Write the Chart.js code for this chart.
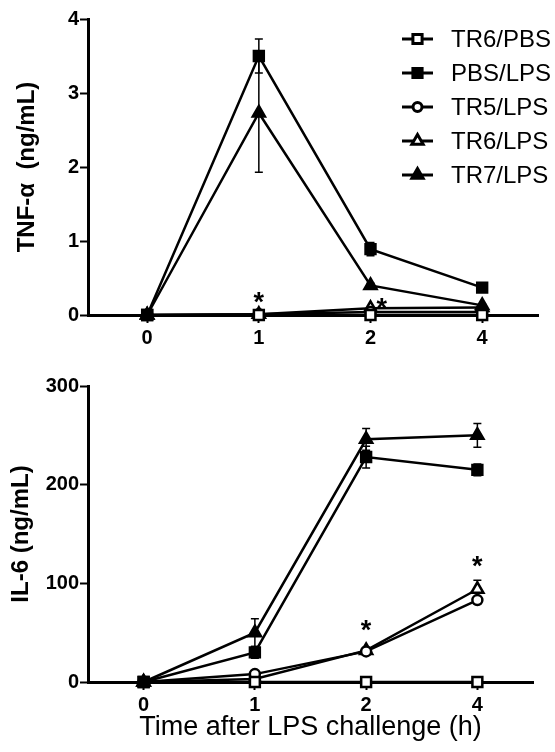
<!DOCTYPE html>
<html>
<head>
<meta charset="utf-8">
<script src="https://cdn.jsdelivr.net/npm/chart.js@4.4.1/dist/chart.umd.min.js"></script>
<style>
  html, body { margin: 0; padding: 0; background: #fff; }
  #wrap { position: relative; width: 555px; height: 752px; }
  canvas { position: absolute; left: 0; }
  #tnf { top: 0; }
  #il6 { top: 345px; }
</style>
</head>
<body>
<div id="wrap">
  <canvas id="tnf" width="555" height="345"></canvas>
  <canvas id="il6" width="555" height="407"></canvas>
</div>
<script>
// Time points (h) and groups
const times = ['0', '1', '2', '4'];
const groups = ['TR6/PBS', 'PBS/LPS', 'TR5/LPS', 'TR6/LPS', 'TR7/LPS'];

// TNF-alpha (ng/mL)
const tnfTR6PBS = [0, 0, 0, 0];
const tnfPBSLPS = [0, 3.5, 0.89, 0.37];
const tnfTR5LPS = [0, 0.01, 0.04, 0.04];
const tnfTR6LPS = [0, 0.01, 0.09, 0.1];
const tnfTR7LPS = [0, 2.73, 0.4, 0.13];
const tnfErrPBSLPS = [0, 0.23, 0.09, 0.03];
const tnfErrTR7LPS = [0, 0.8, 0.03, 0.02];
const tnfTicks = [0, 1, 2, 3, 4];
const tnfStarX = [1, 2.1];
const tnfStarY = [0.28, 0.2];

// IL-6 (ng/mL)
const il6TR6PBS = [0, 0, 0, 0];
const il6PBSLPS = [0, 30, 228, 215];
const il6TR5LPS = [0, 8, 31, 83];
const il6TR6LPS = [0, 3, 32, 94];
const il6TR7LPS = [0, 50, 246, 250];
const il6ErrPBSLPS = [0, 6, 11, 6];
const il6ErrTR5LPS = [0, 1, 2, 3];
const il6ErrTR6LPS = [0, 2, 3, 9];
const il6ErrTR7LPS = [0, 14, 11, 12];
const il6Ticks = [0, 100, 200, 300];
const il6StarX = [2, 3];
const il6StarY = [61, 126];

const FONT = '"Liberation Sans", Arial, sans-serif';
Chart.defaults.font.family = FONT;
Chart.defaults.color = '#000';

// marker style per group (same order as groups)
const markers = [
  { style: 'rect', fill: '#fff', r: 7 },
  { style: 'rect', fill: '#000', r: 7 },
  { style: 'circle', fill: '#fff', r: 5 },
  { style: 'triangle', fill: '#fff', r: 7 },
  { style: 'triangle', fill: '#000', r: 7 }
];
const drawOrder = [2, 0, 3, 4, 1];

function toPoints(arr) {
  return arr.map((v, i) => ({ x: i, y: v }));
}

function makeDatasets(series, errors) {
  return series.map((vals, k) => ({
    label: groups[k],
    data: toPoints(vals),
    errors: errors[k],
    borderColor: '#000',
    borderWidth: 2.5,
    pointStyle: markers[k].style,
    pointRadius: markers[k].r,
    pointHoverRadius: markers[k].r,
    pointBackgroundColor: markers[k].fill,
    pointBorderColor: '#000',
    pointBorderWidth: 2.5,
    tension: 0,
    clip: false,
    order: drawOrder[k]
  }));
}

const errorBars = {
  id: 'errorBars',
  beforeDatasetsDraw(chart) {
    const ctx = chart.ctx;
    const xs = chart.scales.x, ys = chart.scales.y;
    ctx.save();
    ctx.strokeStyle = '#000';
    ctx.lineWidth = 1.5;
    chart.data.datasets.forEach(ds => {
      if (!ds.errors) return;
      ds.errors.forEach((e, i) => {
        if (!e) return;
        const v = ds.data[i].y;
        const px = xs.getPixelForValue(i);
        const top = ys.getPixelForValue(v + e);
        const bot = ys.getPixelForValue(Math.max(v - e, 0));
        ctx.beginPath();
        ctx.moveTo(px, top); ctx.lineTo(px, bot);
        ctx.moveTo(px - 4, top); ctx.lineTo(px + 4, top);
        ctx.moveTo(px - 4, bot); ctx.lineTo(px + 4, bot);
        ctx.stroke();
      });
    });
    ctx.restore();
  }
};

function stars(xs, ys) {
  return {
    id: 'stars',
    afterDatasetsDraw(chart) {
      const ctx = chart.ctx;
      ctx.save();
      ctx.font = 'bold 27px ' + FONT;
      ctx.textAlign = 'center';
      ctx.textBaseline = 'alphabetic';
      ctx.fillStyle = '#000';
      xs.forEach((x, i) => {
        const px = chart.scales.x.getPixelForValue(x);
        const py = chart.scales.y.getPixelForValue(ys[i]);
        ctx.fillText('*', px, py + 17);
      });
      ctx.restore();
    }
  };
}

// legend drawn inside the top panel
const legendBox = {
  id: 'legendBox',
  afterDraw(chart) {
    const ctx = chart.ctx;
    ctx.save();
    groups.forEach((name, k) => {
      const y = 39 + k * 34;
      ctx.strokeStyle = '#000';
      ctx.lineWidth = 3;
      ctx.beginPath();
      ctx.moveTo(402, y); ctx.lineTo(433, y);
      ctx.stroke();
      ctx.fillStyle = markers[k].fill;
      Chart.helpers.drawPoint(ctx, {
        pointStyle: markers[k].style,
        radius: markers[k].r - 0.5,
        rotation: 0,
        borderWidth: 3
      }, 417.5, y);
      ctx.fillStyle = '#000';
      ctx.font = '24px ' + FONT;
      ctx.textAlign = 'left';
      ctx.textBaseline = 'middle';
      ctx.fillText(name, 451, y + 1);
    });
    ctx.restore();
  }
};

function makeChart(id, series, errors, opts) {
  return new Chart(document.getElementById(id), {
    type: 'line',
    data: { datasets: makeDatasets(series, errors) },
    options: {
      responsive: false,
      animation: false,
      devicePixelRatio: 1,
      layout: { padding: opts.padding },
      plugins: { legend: { display: false }, tooltip: { enabled: false } },
      scales: {
        x: {
          type: 'linear',
          min: opts.xMin,
          max: 3.5,
          afterBuildTicks: s => { s.ticks = times.map((t, i) => ({ value: i })); },
          afterFit: s => { s.height = opts.xHeight; },
          ticks: {
            callback: v => times[v],
            font: { size: 20, weight: 'bold' },
            padding: 3,
            maxRotation: 0
          },
          grid: { drawOnChartArea: false, tickLength: 8, tickWidth: 2, color: '#000' },
          border: { color: '#000', width: 3 },
          title: opts.xTitle ? {
            display: true,
            text: opts.xTitle,
            font: { size: 27 },
            padding: { top: 0, bottom: 8 }
          } : { display: false }
        },
        y: {
          min: 0,
          max: opts.yTicks[opts.yTicks.length - 1],
          afterBuildTicks: s => { s.ticks = opts.yTicks.map(v => ({ value: v })); },
          afterFit: s => { s.width = 88; },
          ticks: { font: { size: 20, weight: 'bold' }, padding: 1 },
          grid: { drawOnChartArea: false, tickLength: 8, tickWidth: 2, color: '#000' },
          border: { color: '#000', width: 3 },
          title: {
            display: true,
            text: opts.yTitle,
            font: { size: 24, weight: 'bold' },
            padding: { top: opts.yTitlePad, bottom: 0 }
          }
        }
      }
    },
    plugins: opts.plugins
  });
}

makeChart('tnf',
  [tnfTR6PBS, tnfPBSLPS, tnfTR5LPS, tnfTR6LPS, tnfTR7LPS],
  [null, tnfErrPBSLPS, null, null, tnfErrTR7LPS],
  {
    padding: { top: 19, right: 17, left: 0, bottom: 0 },
    xMin: -0.53, xHeight: 30,
    yTicks: tnfTicks, yTitle: 'TNF-\u03b1  (ng/mL)', yTitlePad: 13,
    plugins: [errorBars, stars(tnfStarX, tnfStarY), legendBox]
  });

makeChart('il6',
  [il6TR6PBS, il6PBSLPS, il6TR5LPS, il6TR6LPS, il6TR7LPS],
  [null, il6ErrPBSLPS, il6ErrTR5LPS, il6ErrTR6LPS, il6ErrTR7LPS],
  {
    padding: { top: 41, right: 22, left: 0, bottom: 0 },
    xMin: -0.5, xHeight: 70, xTitle: 'Time after LPS challenge (h)',
    yTicks: il6Ticks, yTitle: 'IL-6 (ng/mL)', yTitlePad: 7,
    plugins: [errorBars, stars(il6StarX, il6StarY)]
  });
</script>
</body>
</html>
